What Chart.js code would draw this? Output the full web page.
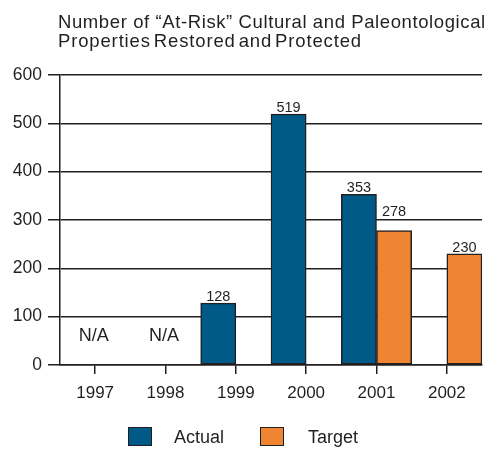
<!DOCTYPE html>
<html><head><meta charset="utf-8">
<script src="https://cdn.jsdelivr.net/npm/chart.js@4/dist/chart.umd.min.js"></script>
<style>
html,body{margin:0;padding:0;background:#fff;}
#wrap{position:relative;width:488px;height:449px;overflow:hidden;font-family:"Liberation Sans",Arial,sans-serif;color:#231f20;}
#title{position:absolute;left:58px;top:11.5px;font-size:18.5px;line-height:19.5px;white-space:nowrap;}
#t1{letter-spacing:0.6px;}
#t2{letter-spacing:0.85px;word-spacing:-3px;}
canvas{position:absolute;left:0;top:0;}
.lg{position:absolute;top:427px;width:22px;height:17px;border:1.5px solid #231f20;}
.lt{position:absolute;top:427px;font-size:18px;line-height:20px;}
</style></head>
<body><div id="wrap">
<canvas id="c" width="488" height="449"></canvas>
<div id="title"><span id="t1">Number of “At-Risk” Cultural and Paleontological</span><br><span id="t2">Properties Restored and Protected</span></div>
<div id="legend"></div>
</div>
<script>
const categories = ['1997','1998','1999','2000','2001','2002'];
const actualValues = [null, null, 128, 519, 353, null];
const targetValues = [null, null, null, null, 278, 230];
const naLabels = ['N/A','N/A','','','',''];
const seriesNames = ['Actual','Target'];
const seriesColors = ['#005a87','#ef8533'];
const yTicks = [0,100,200,300,400,500,600];

const ink = '#231f20';
const FONT = '"Liberation Sans", Arial, sans-serif';

const labelPlugin = {
  id:'labels',
  afterDatasetsDraw(chart){
    const ctx = chart.ctx;
    const xs = chart.scales.x, ys = chart.scales.y;
    const gridPx = yTicks.map(v=>ys.getPixelForValue(v));
    ctx.save();
    ctx.fillStyle = ink;
    ctx.textAlign = 'center';
    ctx.textBaseline = 'alphabetic';
    ctx.font = '14.5px ' + FONT;
    chart.data.datasets.forEach((ds,di)=>{
      const meta = chart.getDatasetMeta(di);
      meta.data.forEach((bar,i)=>{
        const v = ds.data[i];
        if (v===null || v===undefined) return;
        let base = bar.y - 2;
        const top = base - 11;
        const hit = gridPx.find(g => g >= top - 1 && g <= base + 1);
        if (hit !== undefined) base = hit - 4;
        ctx.fillText(String(v), bar.x, base);
      });
    });
    ctx.font = '18px ' + FONT;
    naLabels.forEach((t,i)=>{
      if(!t) return;
      ctx.fillText(t, xs.getPixelForValue(i) - 1.5, ys.getPixelForValue(50));
    });
    ctx.restore();
  }
};

new Chart(document.getElementById('c'), {
  type:'bar',
  data:{
    labels:categories,
    datasets:[
      {label:seriesNames[0], data:actualValues, backgroundColor:seriesColors[0], borderColor:ink, borderWidth:1.5, borderSkipped:false},
      {label:seriesNames[1], data:targetValues, backgroundColor:seriesColors[1], borderColor:ink, borderWidth:1.5, borderSkipped:false}
    ]
  },
  options:{
    responsive:false,
    animation:false,
    devicePixelRatio:1,
    layout:{padding:{left:0,top:75,right:6,bottom:0}},
    datasets:{bar:{categoryPercentage:1.0, barPercentage:1.0}},
    plugins:{legend:{display:false}, tooltip:{enabled:false}, title:{display:false}},
    scales:{
      x:{
        offset:true,
        grid:{offset:false, drawOnChartArea:false, drawTicks:true, tickLength:9, color:ink, lineWidth:1.5},
        border:{display:true, color:ink, width:1.5},
        ticks:{color:ink, font:{family:FONT, size:17}, padding:9, maxRotation:0},
        afterFit(s){ s.height = 84; }
      },
      y:{
        min:0, max:600,
        afterBuildTicks(s){ s.ticks = yTicks.map(v=>({value:v})); },
        grid:{color:ink, lineWidth:1.5, tickLength:12, drawTicks:true},
        border:{display:true, color:ink, width:1.5},
        ticks:{color:ink, font:{family:FONT, size:17.5}, padding:6},
        afterFit(s){ s.width = 60; }
      }
    }
  },
  plugins:[labelPlugin]
});

// legend
const lg = document.getElementById('legend');
const boxLeft = [128, 260];
const textLeft = [174, 308];
seriesNames.forEach((n,i)=>{
  const b = document.createElement('div');
  b.className='lg'; b.style.left = boxLeft[i]+'px'; b.style.background = seriesColors[i];
  lg.appendChild(b);
  const t = document.createElement('div');
  t.className='lt'; t.style.left = textLeft[i]+'px'; t.textContent = n;
  lg.appendChild(t);
});
</script>
</body></html>
